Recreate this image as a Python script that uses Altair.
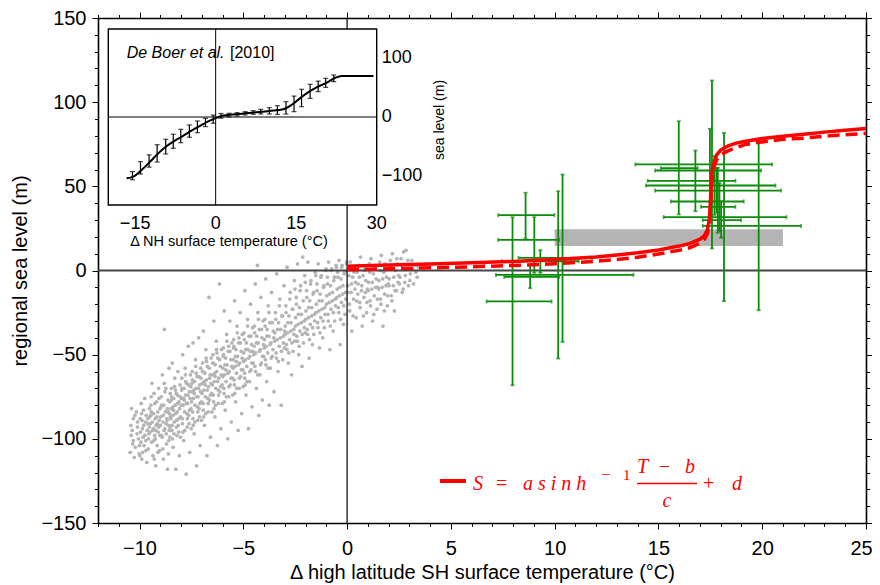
import altair as alt
import pandas as pd

# ---------------- data ----------------
# gray model cloud (delta SH temperature, regional sea level)
CLOUD = [
 (-10.4,-98),(-10.3,-88),(-10.2,-105),(-10.1,-93),(-10.45,-108),(-10.15,-84),(-10.05,-100),(-10.35,-95),(-10.25,-111),(-10.1,-90),(-10.0,-104),(-10.3,-101),
 (-9.95,-96),(-9.9,-85),(-9.85,-108),(-9.8,-92),(-9.75,-76),(-9.7,-101),(-9.65,-114),(-9.6,-88),(-9.55,-97),(-9.52,-82),(-9.98,-110),(-9.92,-79),(-9.83,-99),(-9.78,-104),(-9.72,-90),(-9.68,-86),(-9.63,-95),(-9.58,-106),(-9.53,-93),(-9.88,-89),
 (-9.48,-91),(-9.45,-80),(-9.42,-102),(-9.4,-67),(-9.37,-95),(-9.35,-110),(-9.32,-85),(-9.3,-73),(-9.27,-98),(-9.25,-88),(-9.22,-116),(-9.2,-92),(-9.18,-78),(-9.15,-104),(-9.12,-84),(-9.1,-96),(-9.08,-70),(-9.05,-89),(-9.03,-107),(-9.01,-82),(-9.46,-86),(-9.33,-94),(-9.24,-100),(-9.14,-91),(-9.06,-76),
 (-8.98,-87),(-8.95,-75),(-8.93,-98),(-8.9,-62),(-8.87,-90),(-8.85,-112),(-8.83,-80),(-8.8,-35),(-8.78,-94),(-8.75,-84),(-8.73,-70),(-8.7,-103),(-8.68,-88),(-8.65,-118),(-8.63,-77),(-8.6,-92),(-8.58,-58),(-8.56,-85),(-8.54,-99),(-8.52,-73),(-8.96,-81),(-8.88,-106),(-8.81,-67),(-8.72,-91),(-8.66,-82),(-8.61,-109),(-8.57,-95),(-8.51,-87),
 (-8.48,-82),(-8.46,-70),(-8.44,-95),(-8.42,-55),(-8.4,-86),(-8.38,-105),(-8.35,-76),(-8.33,-90),(-8.3,-64),(-8.28,-80),(-8.25,-118),(-8.23,-73),(-8.2,-98),(-8.18,-84),(-8.15,-60),(-8.13,-92),(-8.1,-78),(-8.08,-110),(-8.05,-68),(-8.02,-87),(-8.47,-77),(-8.41,-100),(-8.36,-83),(-8.27,-71),(-8.21,-89),(-8.16,-79),(-8.11,-96),(-8.04,-75),
 (-7.98,-76),(-7.96,-64),(-7.94,-88),(-7.92,-50),(-7.9,-80),(-7.87,-101),(-7.85,-70),(-7.83,-84),(-7.8,-58),(-7.78,-74),(-7.75,-121),(-7.73,-67),(-7.7,-93),(-7.68,-79),(-7.65,-45),(-7.63,-86),(-7.6,-72),(-7.58,-108),(-7.55,-62),(-7.52,-82),(-7.97,-71),(-7.91,-96),(-7.84,-77),(-7.77,-66),(-7.71,-85),(-7.66,-74),(-7.61,-91),(-7.53,-69),
 (-7.48,-72),(-7.46,-60),(-7.44,-84),(-7.42,-43),(-7.4,-76),(-7.37,-97),(-7.35,-66),(-7.33,-80),(-7.3,-53),(-7.28,-70),(-7.25,-116),(-7.23,-63),(-7.2,-89),(-7.18,-75),(-7.15,-40),(-7.13,-82),(-7.1,-68),(-7.08,-104),(-7.05,-58),(-7.02,-78),(-7.47,-67),(-7.41,-92),(-7.36,-73),(-7.27,-61),(-7.21,-81),(-7.16,-70),(-7.11,-87),(-7.04,-64),
 (-6.98,-67),(-6.96,-55),(-6.94,-79),(-6.92,-36),(-6.9,-71),(-6.87,-92),(-6.85,-61),(-6.83,-75),(-6.8,-47),(-6.78,-65),(-6.75,-110),(-6.73,-57),(-6.7,-84),(-6.68,-69),(-6.65,-16),(-6.63,-77),(-6.6,-62),(-6.58,-99),(-6.55,-52),(-6.52,-73),(-6.97,-60),(-6.91,-87),(-6.84,-68),(-6.77,-54),(-6.71,-76),(-6.62,-64),
 (-6.48,-62),(-6.46,-50),(-6.44,-74),(-6.42,-30),(-6.4,-66),(-6.37,-87),(-6.35,-56),(-6.33,-70),(-6.3,-42),(-6.28,-60),(-6.25,-104),(-6.23,-52),(-6.2,-79),(-6.18,-64),(-6.15,-8),(-6.13,-72),(-6.1,-57),(-6.08,-94),(-6.05,-47),(-6.02,-68),(-6.47,-55),(-6.41,-82),(-6.36,-63),(-6.27,-49),(-6.21,-71),
 (-5.98,-58),(-5.96,-46),(-5.94,-70),(-5.92,-24),(-5.9,-62),(-5.87,-83),(-5.85,-52),(-5.83,-66),(-5.8,-38),(-5.78,-56),(-5.75,-100),(-5.73,-48),(-5.7,-75),(-5.68,-60),(-5.65,-30),(-5.63,-68),(-5.6,-53),(-5.58,-90),(-5.55,-43),(-5.52,-64),(-5.97,-51),(-5.91,-78),(-5.84,-59),(-5.71,-45),
 (-5.48,-53),(-5.46,-41),(-5.44,-65),(-5.42,-18),(-5.4,-57),(-5.37,-78),(-5.35,-47),(-5.33,-61),(-5.3,-33),(-5.28,-51),(-5.25,-95),(-5.23,-43),(-5.2,-70),(-5.18,-55),(-5.15,-25),(-5.13,-63),(-5.1,-48),(-5.08,-85),(-5.05,-38),(-5.02,-59),(-5.47,-46),(-5.41,-73),(-5.34,-54),(-5.21,-40),
 (-4.98,-49),(-4.96,-37),(-4.94,-61),(-4.92,-12),(-4.9,-53),(-4.87,-74),(-4.85,-43),(-4.83,-57),(-4.8,-29),(-4.78,-47),(-4.75,-94),(-4.73,-39),(-4.7,-66),(-4.68,-51),(-4.65,-20),(-4.63,-59),(-4.6,-44),(-4.58,-81),(-4.55,-34),(-4.52,-55),(-4.91,-68),(-4.66,-48),
 (-4.48,-45),(-4.46,-33),(-4.44,-57),(-4.42,-8),(-4.4,-49),(-4.37,-70),(-4.35,-39),(-4.32,3),(-4.3,-25),(-4.28,-43),(-4.25,-86),(-4.23,-35),(-4.2,-62),(-4.18,-47),(-4.15,-16),(-4.13,-55),(-4.1,-40),(-4.08,-77),(-4.05,-30),(-4.02,-51),
 (-3.98,-41),(-3.96,-29),(-3.94,-53),(-3.92,-5),(-3.9,-45),(-3.87,-66),(-3.85,-35),(-3.82,-49),(-3.8,-21),(-3.77,-39),(-3.75,-80),(-3.72,-31),(-3.7,-58),(-3.67,-43),(-3.64,-13),(-3.6,-51),(-3.56,-36),(-3.52,-72),
 (-3.48,-37),(-3.45,-25),(-3.42,-49),(-3.39,-2),(-3.36,-41),(-3.33,-60),(-3.3,-31),(-3.27,-45),(-3.24,-17),(-3.2,-35),(-3.17,-80),(-3.14,-27),(-3.1,-53),(-3.07,-39),(-3.04,-9),(-3.02,-46),
 (-2.98,-33),(-2.95,-21),(-2.92,-44),(-2.89,2),(-2.86,-37),(-2.83,-55),(-2.8,-27),(-2.77,-41),(-2.74,-13),(-2.7,-31),(-2.67,-62),(-2.64,-23),(-2.6,-48),(-2.57,-35),(-2.54,-6),(-2.52,-42),
 (-2.48,-28),(-2.45,-16),(-2.42,-39),(-2.39,4),(-2.36,-32),(-2.33,-50),(-2.3,-22),(-2.27,-36),(-2.24,-9),(-2.2,-26),(-2.17,-57),(-2.14,8),(-2.1,-43),(-2.07,-30),(-2.04,-3),(-2.02,-37),
 (-1.98,-24),(-1.95,-12),(-1.92,-35),(-1.89,5),(-1.86,-28),(-1.83,-52),(-1.8,-18),(-1.77,-32),(-1.74,-6),(-1.7,-22),(-1.67,-44),(-1.64,-14),(-1.6,-38),(-1.57,-26),(-1.53,-1),
 (-1.48,-20),(-1.45,-8),(-1.42,-31),(-1.39,4),(-1.36,-24),(-1.33,-46),(-1.3,-14),(-1.27,-28),(-1.24,-3),(-1.2,-18),(-1.17,-40),(-1.14,-10),(-1.1,-34),(-1.07,-22),(-1.03,0),
 (-0.98,-15),(-0.95,-4),(-0.92,-26),(-0.89,5),(-0.86,-19),(-0.83,-47),(-0.8,-9),(-0.77,-23),(-0.74,1),(-0.7,-13),(-0.67,-36),(-0.64,-6),(-0.6,-30),(-0.57,-17),(-0.53,3),
 (-0.48,-11),(-0.45,-1),(-0.42,-22),(-0.39,6),(-0.36,-15),(-0.33,-44),(-0.3,-5),(-0.27,-19),(-0.24,3),(-0.2,-9),(-0.17,-32),(-0.14,-2),(-0.1,-26),(-0.07,-13),(-0.03,4),
 (0.03,-9),(0.07,1),(0.11,-20),(0.15,5),(0.19,-13),(0.23,-36),(0.27,-4),(0.31,-17),(0.35,2),(0.4,-7),(0.44,-28),(0.48,-1),
 (0.53,-8),(0.57,3),(0.61,-19),(0.65,8),(0.69,-12),(0.73,-33),(0.77,-3),(0.81,-16),(0.85,1),(0.9,-6),(0.94,-25),(0.98,-11),
 (1.03,-7),(1.07,4),(1.11,-18),(1.15,7),(1.19,-11),(1.23,-30),(1.27,-2),(1.31,-15),(1.35,2),(1.4,-5),(1.44,-23),(1.48,-10),
 (1.53,-6),(1.57,5),(1.61,-17),(1.65,9),(1.69,-10),(1.73,-33),(1.77,-1),(1.81,-14),(1.85,3),(1.9,-4),(1.94,-21),(1.98,-8),
 (2.03,-5),(2.08,6),(2.13,-15),(2.18,10),(2.23,-9),(2.28,-24),(2.33,0),(2.38,-12),(2.43,4),(2.48,-3),
 (2.55,-4),(2.6,7),(2.66,-13),(2.72,11),(2.78,-7),(2.84,12),(2.9,1),(2.96,-9),
 (3.05,-2),(3.12,6),(3.2,-8),(3.28,3),(3.38,-4),
]
# extra points in the dense core of the cloud
CLOUD_CORE = [
 (-10.42,-92),(-10.33,-103),(-10.22,-86),(-10.12,-97),(-10.02,-109),(-10.38,-82),
 (-9.97,-88),(-9.93,-102),(-9.86,-94),(-9.81,-83),(-9.74,-98),(-9.69,-107),(-9.61,-91),(-9.57,-100),(-9.51,-87),(-9.89,-112),
 (-9.49,-96),(-9.43,-84),(-9.38,-90),(-9.31,-101),(-9.26,-79),(-9.21,-95),(-9.16,-87),(-9.11,-108),(-9.07,-93),(-9.02,-98),(-9.44,-75),(-9.29,-112),
 (-8.99,-92),(-8.94,-80),(-8.91,-99),(-8.86,-86),(-8.82,-95),(-8.77,-72),(-8.71,-97),(-8.67,-89),(-8.62,-84),(-8.59,-101),(-8.55,-78),(-8.53,-93),
 (-8.49,-88),(-8.45,-75),(-8.43,-92),(-8.39,-81),(-8.34,-97),(-8.31,-69),(-8.26,-85),(-8.22,-93),(-8.17,-74),(-8.12,-88),(-8.07,-82),(-8.03,-99),
 (-7.99,-80),(-7.95,-70),(-7.93,-91),(-7.88,-76),(-7.82,-95),(-7.79,-62),(-7.74,-79),(-7.69,-88),(-7.64,-68),(-7.59,-83),(-7.56,-76),(-7.51,-94),
 (-7.49,-78),(-7.45,-65),(-7.43,-88),(-7.38,-71),(-7.34,-90),(-7.29,-57),(-7.24,-75),(-7.19,-84),(-7.14,-63),(-7.09,-79),(-7.06,-72),(-7.01,-89),
 (-6.99,-73),(-6.95,-60),(-6.93,-83),(-6.88,-66),(-6.82,-85),(-6.79,-52),(-6.74,-71),(-6.69,-79),(-6.64,-58),(-6.59,-74),(-6.56,-67),(-6.51,-84),
 (-6.49,-68),(-6.45,-55),(-6.43,-78),(-6.38,-61),(-6.34,-80),(-6.29,-47),(-6.24,-66),(-6.19,-74),(-6.14,-53),(-6.09,-69),(-6.06,-62),(-6.01,-79),
 (-5.99,-63),(-5.95,-50),(-5.93,-73),(-5.88,-56),(-5.82,-75),(-5.79,-42),(-5.74,-61),(-5.69,-69),(-5.64,-48),(-5.59,-64),(-5.56,-57),(-5.51,-74),
 (-5.49,-58),(-5.45,-45),(-5.43,-68),(-5.38,-51),(-5.32,-70),(-5.29,-37),(-5.24,-56),(-5.19,-64),(-5.14,-43),(-5.09,-59),(-5.06,-52),(-5.01,-69),
 (-4.99,-54),(-4.95,-41),(-4.93,-64),(-4.88,-47),(-4.82,-66),(-4.79,-33),(-4.74,-52),(-4.69,-60),(-4.64,-39),(-4.59,-55),(-4.54,-48),
 (-4.49,-50),(-4.45,-37),(-4.41,-60),(-4.36,-43),(-4.31,-62),(-4.27,-29),(-4.22,-48),(-4.17,-56),(-4.12,-35),(-4.07,-51),(-4.03,-44),
 (-3.99,-46),(-3.95,-33),(-3.91,-56),(-3.86,-39),(-3.81,-58),(-3.76,-25),(-3.71,-44),(-3.66,-52),(-3.61,-31),(-3.57,-47),(-3.53,-40),
 (-3.49,-42),(-3.44,-29),(-3.4,-52),(-3.35,-35),(-3.31,-54),(-3.26,-21),(-3.21,-40),(-3.16,-48),(-3.11,-27),(-3.06,-43),(-3.01,-36),
 (-2.99,-38),(-2.94,-25),(-2.9,-47),(-2.85,-31),(-2.81,-49),(-2.76,-17),(-2.71,-36),(-2.66,-43),(-2.61,-23),(-2.56,-38),(-2.51,-11),
 (-2.49,-33),(-2.44,-20),(-2.4,-42),(-2.35,-26),(-2.31,-45),(-2.26,-12),(-2.21,-31),(-2.16,-38),(-2.11,-18),(-2.06,-34),(-2.01,-7),
 (-1.99,-29),(-1.94,-16),(-1.9,-38),(-1.85,-22),(-1.81,-41),(-1.76,-8),(-1.71,-27),(-1.66,-34),(-1.61,-13),(-1.56,-30),(-1.51,-3),
 (-1.49,-25),(-1.44,-12),(-1.4,-34),(-1.35,-18),(-1.31,-37),(-1.26,-4),(-1.21,-23),(-1.16,-30),(-1.11,-9),(-1.06,-26),(-1.01,1),
 (-0.99,-20),(-0.94,-8),(-0.9,-30),(-0.85,-14),(-0.81,-33),(-0.76,0),(-0.71,-18),(-0.66,-25),(-0.61,-4),(-0.56,-21),(-0.51,2),
 (-0.49,-16),(-0.44,-4),(-0.4,-25),(-0.35,-10),(-0.31,-29),(-0.26,2),(-0.21,-14),(-0.16,-21),(-0.11,-1),(-0.06,-17),(-0.02,5),
 (0.02,-13),(0.09,-3),(0.13,-24),(0.21,-8),(0.29,-27),(0.33,-1),(0.38,-11),(0.46,-18),
 (0.52,-14),(0.59,-4),(0.63,-22),(0.71,-9),(0.79,-27),(0.83,0),(0.88,-13),(0.96,-19),
 (1.02,-12),(1.09,-1),(1.13,-21),(1.21,-7),(1.29,-26),(1.33,2),(1.38,-10),(1.46,-17),
 (1.52,-11),(1.59,0),(1.63,-20),(1.71,-5),(1.79,-24),(1.83,4),(1.88,-9),(1.96,-15),
 (2.02,-9),(2.1,2),(2.16,-18),(2.25,-4),(2.31,-12),(2.4,7),(2.46,-7),
 (2.52,-8),(2.63,3),(2.7,-11),(2.81,-3),(2.93,6),
 (3.02,-6),(3.15,1),(3.31,-1),(3.44,2),
]
cloud_T = [p[0] for p in CLOUD + CLOUD_CORE]
cloud_S = [p[1] for p in CLOUD + CLOUD_CORE]

# green proxy records: centre and error ranges
g_T   = [7.97, 8.60, 9.02, 9.31, 8.82, 10.17, 10.38, 17.58, 15.98, 17.48, 16.78, 17.70, 17.80, 17.86, 17.94, 18.16, 18.02, 19.83]
g_S   = [-18.4, 32.9, 18.2, 5.5, -3.8, -2.6, 7.5, 63.0, 60.8, 59.4, 53.3, 50.5, 47.5, 41.0, 37.8, 31.7, 29.9, 26.5]
g_Tlo = [6.72, 7.28, 7.28, 7.46, 7.57, 7.17, 8.26, 13.89, 15.12, 14.84, 14.48, 14.40, 14.84, 15.60, 17.05, 15.25, 17.13, 17.13]
g_Thi = [9.85, 9.99, 10.22, 11.16, 10.22, 13.80, 11.80, 20.48, 16.89, 19.95, 18.71, 20.64, 20.91, 19.11, 18.71, 21.17, 18.98, 21.87]
g_Slo = [-68.2, 19.0, -1.4, -1.4, -10.5, -52.3, -42.4, 13.1, 33.3, 34.6, 35.2, 33.0, 34.3, 22.4, 23.4, -18.2, 19.4, -23.6]
g_Shi = [31.7, 46.2, 31.7, 12.1, 3.0, 47.1, 57.0, 112.9, 88.7, 84.2, 71.3, 68.0, 61.0, 61.0, 52.0, 81.8, 41.2, 76.8]

# gray band
band_T = [10.0, 21.0]
band_S = [14.5, 24.5]

# red fitted curves (solid and dashed)
fit_T = [0, 2, 4, 6, 8, 10, 12, 13, 14, 15, 16, 16.5, 17.0, 17.2, 17.35, 17.45, 17.5, 17.55, 17.6, 17.7, 17.8, 18.0, 18.3, 18.7, 19.2, 20, 21, 22, 23, 24, 25]
fit_S = [2.5, 3.2, 3.9, 4.6, 5.4, 6.5, 8.0, 9.2, 10.5, 12.2, 14.5, 16.0, 18.6, 20.5, 24, 30, 40, 52, 60, 65, 68.5, 71.5, 73.7, 75.5, 76.8, 78.4, 79.8, 81.0, 82.2, 83.3, 84.3]
fitd_S = [0.4, 1.0, 1.6, 2.2, 3.0, 4.0, 5.5, 6.6, 7.9, 9.8, 12.0, 13.5, 16.2, 18.3, 21.5, 27, 36, 48, 56, 62.5, 65.5, 68.5, 70.8, 72.8, 74.9, 76.4, 77.9, 78.6, 79.8, 80.7, 81.4]

# inset (De Boer et al. 2010)
in_curve_T = [-16.6, -15.3, -13.8, -12.2, -10.7, -9.1, -7.6, -6.0, -4.5, -2.9, -1.4, -0.1, 1.1, 4.0, 7.0, 10.0, 12.6, 14.1, 15.7, 17.2, 18.8, 20.7, 22.2, 23.5, 29.4]
in_curve_S = [-104.5, -101.6, -90.3, -76, -62, -49.4, -40.3, -31.8, -23.3, -15.3, -7.4, -2.3, 1.7, 5.0, 7.7, 10.3, 13.1, 20.4, 31.8, 42, 50.6, 58.5, 66.4, 69.8, 69.8]
in_err_T = [-15.5, -14.0, -12.4, -10.9, -9.3, -7.9, -6.5, -4.9, -3.4, -1.9, -0.45, 1.0, 2.5, 4.0, 5.5, 7.0, 8.4, 10.0, 11.5, 13.1, 14.6, 16.0, 17.6, 19.1, 20.5, 22.0]
in_err_S = [-100, -86.6, -75, -62, -50.5, -41.4, -32.4, -24, -16.8, -9.4, -3.7, 2, 3.4, 4.6, 6.3, 7.7, 9.1, 10.5, 11.9, 15.6, 22.4, 32.4, 43.7, 52.2, 58.2, 65.9]
in_err_h = [7, 10.5, 10.5, 14.8, 12.5, 12, 11.4, 10.5, 10, 7, 7, 4, 2.9, 2.8, 2.8, 3.1, 4, 5.4, 7.4, 10.5, 13.3, 14.8, 12, 9, 7.7, 5.7]
in_xticks = [-15, 0, 15, 30]
in_yticks = [-100, 0, 100]

# ---------------- layout / style ----------------
W, H = 768, 505
SANS = "Liberation Sans"
SERIF = "Liberation Serif"
GREEN = "#0a8c0a"
GRAY = "#b4b4b4"
RED = "#ff0000"

xs = alt.Scale(domain=[-12, 25], nice=False, zero=False)
ys = alt.Scale(domain=[-150, 150], nice=False, zero=False)

IN_L, IN_R, IN_T, IN_B = 10.3, 278.7, 11, 187
xi = alt.Scale(domain=[-20, 30], range=[IN_L, IN_R], nice=False, zero=False)
yi = alt.Scale(domain=[-150, 150], range=[IN_B, IN_T], nice=False, zero=False)


def cond(test, a, b):
    return {"condition": {"test": test, "value": a}, "value": b}


def minus(v):
    return str(v).replace("-", "\u2212")


x_vals = list(range(-12, 26))
y_vals = list(range(-150, 151, 10))
common = dict(tickColor="black", tickWidth=1, domainColor="black", domainWidth=1.6,
              grid=False, labelFont=SANS, labelColor="black", labelFlush=False,
              labelOverlap=False, titleFont=SANS, titleColor="black", titleFontWeight="normal")

ax_bottom = alt.Axis(orient="bottom", values=x_vals,
                     labelExpr="datum.value % 5 === 0 ? datum.label : ''",
                     tickSize=cond("datum.value % 5 === 0", 6, 3.5),
                     labelOffset=cond("datum.value === 25", -5, 0),
                     labelFontSize=20, labelPadding=9,
                     title="Δ high latitude SH surface temperature (°C)",
                     titleFontSize=20, titlePadding=4, **common)
ax_left = alt.Axis(orient="left", values=y_vals,
                   labelExpr="datum.value % 50 === 0 ? datum.label : ''",
                   tickSize=cond("datum.value % 50 === 0", 6, 3.5),
                   labelFontSize=20, labelPadding=6,
                   title="regional sea level (m)", titleFontSize=20, titlePadding=10, **common)
ax_top = alt.Axis(orient="top", values=x_vals, labels=False, title=None,
                  tickSize=cond("datum.value % 5 === 0", 6, 3.5), **common)
ax_right = alt.Axis(orient="right", values=y_vals, labels=False, title=None,
                    tickSize=cond("datum.value % 50 === 0", 6, 3.5), **common)

cloud_df = pd.DataFrame({"T": cloud_T, "S": cloud_S})
green_df = pd.DataFrame({"T": g_T, "S": g_S, "Tlo": g_Tlo, "Thi": g_Thi, "Slo": g_Slo, "Shi": g_Shi})
band_df = pd.DataFrame({"T1": [band_T[0]], "T2": [band_T[1]], "S1": [band_S[0]], "S2": [band_S[1]]})
fit_df = pd.DataFrame({"T": fit_T, "S": fit_S})
fitd_df = pd.DataFrame({"T": fit_T, "S": fitd_S})
zero_df = pd.DataFrame({"v": [0]})
one = pd.DataFrame({"k": [0]})

cloud = alt.Chart(cloud_df).mark_circle(size=14, color=GRAY, opacity=1).encode(
    x=alt.X("T:Q", scale=xs, axis=ax_bottom),
    y=alt.Y("S:Q", scale=ys, axis=ax_left),
)
band = alt.Chart(band_df).mark_rect(color=GRAY).encode(
    x=alt.X("T1:Q", scale=xs, axis=None), x2="T2:Q",
    y=alt.Y("S1:Q", scale=ys, axis=None), y2="S2:Q",
)
zero_h = alt.Chart(zero_df).mark_rule(color="#444444", strokeWidth=1.8).encode(
    y=alt.Y("v:Q", scale=ys, axis=None))
zero_v = alt.Chart(zero_df).mark_rule(color="black", strokeWidth=1.2).encode(
    x=alt.X("v:Q", scale=xs, axis=None))

g_h = alt.Chart(green_df).mark_rule(color=GREEN, strokeWidth=1.8).encode(
    x=alt.X("Tlo:Q", scale=xs, axis=None), x2="Thi:Q",
    y=alt.Y("S:Q", scale=ys, axis=None))
g_v = alt.Chart(green_df).mark_rule(color=GREEN, strokeWidth=1.8).encode(
    x=alt.X("T:Q", scale=xs, axis=None),
    y=alt.Y("Slo:Q", scale=ys, axis=None), y2="Shi:Q")
g_cap_h = alt.Chart(green_df).transform_fold(["Tlo", "Thi"], as_=["e", "Tend"]).mark_tick(
    orient="vertical", size=4, thickness=1.8, color=GREEN).encode(
    x=alt.X("Tend:Q", scale=xs, axis=None), y=alt.Y("S:Q", scale=ys, axis=None))
g_cap_v = alt.Chart(green_df).transform_fold(["Slo", "Shi"], as_=["e", "Send"]).mark_tick(
    orient="horizontal", size=4, thickness=1.8, color=GREEN).encode(
    x=alt.X("T:Q", scale=xs, axis=None), y=alt.Y("Send:Q", scale=ys, axis=None))

red_dash = alt.Chart(fitd_df).mark_line(color=RED, strokeWidth=3.5, strokeDash=[12, 6]).encode(
    x=alt.X("T:Q", scale=xs, axis=None), y=alt.Y("S:Q", scale=ys, axis=None))
red_solid = alt.Chart(fit_df).mark_line(color=RED, strokeWidth=3.5).encode(
    x=alt.X("T:Q", scale=xs, axis=None), y=alt.Y("S:Q", scale=ys, axis=None))


def txt(s, x, y, size, italic=True, font=SERIF, color=RED, align="left", angle=0, baseline="alphabetic"):
    kw = dict(text=s, align=align, baseline=baseline, font=font, fontSize=size,
              fontStyle="italic" if italic else "normal", color=color, angle=angle)
    return alt.Chart(one).mark_text(**kw).encode(x=alt.value(x), y=alt.value(y))


leg_line = alt.Chart(one).mark_rule(color=RED, strokeWidth=4).encode(
    x=alt.value(342), x2=alt.value(368), y=alt.value(463))
leg_bar = alt.Chart(one).mark_rule(color=RED, strokeWidth=1.6).encode(
    x=alt.value(539), x2=alt.value(599), y=alt.value(465.5))
legend = [
    leg_line,
    txt("S", 375, 472, 20),
    txt("=", 398, 472, 20, italic=False),
    txt("a s i n h", 425, 472, 20),
    txt("−", 503, 462, 17, italic=False),
    txt("1", 525, 462, 15, italic=False),
    txt("T", 539, 455, 20),
    txt("−", 561, 455, 20, italic=False),
    txt("b", 587, 455, 20),
    leg_bar,
    txt("c", 569, 489, 20, align="center"),
    txt("+", 605, 472, 20, italic=False),
    txt("d", 634, 472, 20),
]

dummy = alt.Chart(zero_df).mark_point(opacity=0).encode(
    x=alt.X("v:Q", scale=xs, axis=ax_top), y=alt.Y("v:Q", scale=ys, axis=ax_right))

main = alt.layer(cloud, band, zero_h, zero_v, g_h, g_v, g_cap_h, g_cap_v,
                 red_dash, red_solid, *legend, dummy).resolve_axis(x="independent", y="independent")

# ---------------- inset ----------------
in_box = pd.DataFrame({"a": [-20], "b": [30], "c": [-150], "d": [150], "z": [0]})
in_curve_df = pd.DataFrame({"T": in_curve_T, "S": in_curve_S})
in_err_df = pd.DataFrame({"T": in_err_T, "S": in_err_S, "h": in_err_h})
in_err_df["lo"] = in_err_df["S"] - in_err_df["h"]
in_err_df["hi"] = in_err_df["S"] + in_err_df["h"]
in_xt_df = pd.DataFrame({"v": in_xticks, "lab": [minus(v) for v in in_xticks]})
in_yt_df = pd.DataFrame({"v": in_yticks, "lab": [minus(v) for v in in_yticks]})

in_bg = alt.Chart(in_box).mark_rect(fill="white", stroke="black", strokeWidth=1.4).encode(
    x=alt.X("a:Q", scale=xi, axis=None), x2="b:Q",
    y=alt.Y("c:Q", scale=yi, axis=None), y2="d:Q")
in_zh = alt.Chart(in_box).mark_rule(color="black", strokeWidth=1).encode(
    x=alt.X("a:Q", scale=xi, axis=None), x2="b:Q", y=alt.Y("z:Q", scale=yi, axis=None))
in_zv = alt.Chart(in_box).mark_rule(color="black", strokeWidth=1).encode(
    x=alt.X("z:Q", scale=xi, axis=None), y=alt.Y("c:Q", scale=yi, axis=None), y2="d:Q")
in_line = alt.Chart(in_curve_df).mark_line(color="black", strokeWidth=2, interpolate="monotone").encode(
    x=alt.X("T:Q", scale=xi, axis=None), y=alt.Y("S:Q", scale=yi, axis=None))
in_bars = alt.Chart(in_err_df).mark_rule(color="black", strokeWidth=1.2).encode(
    x=alt.X("T:Q", scale=xi, axis=None), y=alt.Y("lo:Q", scale=yi, axis=None), y2="hi:Q")
in_caps = alt.Chart(in_err_df).transform_fold(["lo", "hi"], as_=["e", "end"]).mark_tick(
    orient="horizontal", size=5, thickness=1.2, color="black").encode(
    x=alt.X("T:Q", scale=xi, axis=None), y=alt.Y("end:Q", scale=yi, axis=None))
in_xlab = alt.Chart(in_xt_df).mark_text(font=SANS, fontSize=18, color="black", align="center",
                                        baseline="alphabetic").encode(
    x=alt.X("v:Q", scale=xi, axis=None), y=alt.value(210.5), text="lab:N")
in_ylab = alt.Chart(in_yt_df).mark_text(font=SANS, fontSize=18, color="black", align="left",
                                        baseline="middle").encode(
    y=alt.Y("v:Q", scale=yi, axis=None), x=alt.value(IN_R + 5), text="lab:N")
in_xtitle = txt("Δ NH surface temperature (°C)", 131, 227.5, 14.5, italic=False, font=SANS,
                color="black", align="center")
in_ytitle = txt("sea level (m)", 342, 102, 14, italic=False, font=SANS, color="black",
                align="center", angle=270, baseline="middle")
in_t1 = txt("De Boer et al.", 28.7, 40, 16, italic=True, font=SANS, color="black")
in_t2 = txt("[2010]", 132, 40, 16, italic=False, font=SANS, color="black")

inset = alt.layer(in_bg, in_zh, in_zv, in_line, in_bars, in_caps, in_xlab, in_ylab,
                  in_xtitle, in_ytitle, in_t1, in_t2)

chart = alt.layer(main, inset).resolve_scale(x="independent", y="independent").properties(
    width=W, height=H,
    autosize=alt.AutoSizeParams(type="none"),
    padding={"left": 90, "top": 10, "right": 6, "bottom": 62},
).configure_view(stroke=None)

chart.save("out.html", embed_options={"renderer": "svg", "actions": False})
